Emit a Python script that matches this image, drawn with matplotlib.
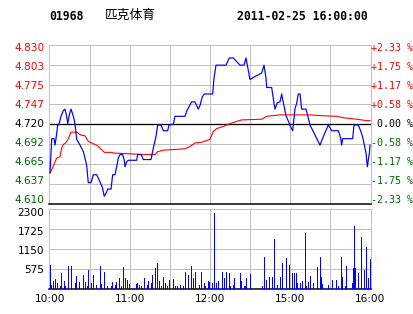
import matplotlib
matplotlib.use("Agg")
import matplotlib.pyplot as plt
import matplotlib.transforms as mtransforms

W, H = 414, 314

code = "01968"
name = "匹克体育"
stamp = "2011-02-25 16:00:00"
prev_close = 4.720

# minutes since 10:00 (240 trading minutes shown)
price_t = [0, 1.3, 3, 3.75, 4.5, 5.8, 6.75, 8.25, 10, 11.25, 12.5, 13.3, 14.5, 15.75,
           17, 18.2, 19.3, 20, 22.5, 25, 26.25, 27.5, 28.7, 30.75, 32.5, 35, 37.5,
           39.2, 40.7, 42.5, 43.3, 45.75, 47, 48.75, 50, 51.2, 52.5, 54.5, 55.7, 56.25,
           57.5, 58.7, 65, 65.75, 68.25, 70, 75.75, 77.5, 79.5, 80.75, 83.25, 85, 88.25,
           89.25, 92.5, 93.75, 101.25, 102.5, 105, 106.25, 108.75, 111.2, 112.5, 114.2,
           115.7, 122, 123, 124.5, 132, 134.5, 137.5, 139.5, 142.5, 145.5, 147, 148,
           150, 152.5, 158.75, 160.5, 162, 162.5, 166.25, 168, 168.75, 170.5, 172.5,
           173.75, 175, 177, 179.5, 180.5, 182, 183.2, 183.75, 185, 186.2, 187.5,
           188.75, 192, 193.25, 195, 198.75, 202.5, 205, 208.75, 211.25, 216.25, 218,
           218.75, 219.5, 227, 228, 231.25, 233.75, 235, 237, 238, 239.5, 240]
price_v = [4.653, 4.700, 4.700, 4.691, 4.700, 4.719, 4.720, 4.731, 4.739, 4.741, 4.731,
           4.721, 4.733, 4.741, 4.734, 4.726, 4.712, 4.699, 4.691, 4.682, 4.673, 4.663,
           4.639, 4.639, 4.650, 4.650, 4.640, 4.633, 4.620, 4.626, 4.630, 4.630, 4.650,
           4.650, 4.661, 4.673, 4.678, 4.678, 4.670, 4.661, 4.668, 4.670, 4.670, 4.678,
           4.678, 4.671, 4.671, 4.687, 4.703, 4.719, 4.719, 4.711, 4.711, 4.719, 4.720,
           4.731, 4.731, 4.738, 4.747, 4.751, 4.751, 4.741, 4.746, 4.758, 4.762, 4.762,
           4.784, 4.802, 4.802, 4.812, 4.812, 4.808, 4.802, 4.802, 4.812, 4.802, 4.782,
           4.785, 4.791, 4.802, 4.784, 4.771, 4.771, 4.749, 4.741, 4.750, 4.751, 4.762,
           4.750, 4.732, 4.721, 4.716, 4.711, 4.732, 4.742, 4.749, 4.762, 4.762, 4.741,
           4.741, 4.732, 4.719, 4.705, 4.691, 4.703, 4.719, 4.711, 4.711, 4.701, 4.691,
           4.700, 4.700, 4.719, 4.719, 4.707, 4.698, 4.680, 4.661, 4.680, 4.691]

avg_t = [0, 1.75, 5, 7.5, 8.75, 10, 11.75, 13.75, 15.75, 20, 23.25, 26.25, 28.75, 32.5,
         35, 37.5, 40.75, 46.25, 47.5, 71.25, 78.75, 80.75, 85, 101.25, 105, 108.75,
         113.75, 120, 122.5, 125, 130, 133.75, 140, 143.75, 158.75, 162.5, 172.5, 195,
         202.5, 215, 220, 230, 237.5, 240]
avg_v = [4.652, 4.659, 4.673, 4.675, 4.687, 4.692, 4.694, 4.700, 4.709, 4.709, 4.705,
         4.704, 4.696, 4.693, 4.691, 4.687, 4.681, 4.681, 4.680, 4.678, 4.678, 4.682,
         4.684, 4.686, 4.689, 4.694, 4.695, 4.699, 4.710, 4.714, 4.717, 4.720, 4.724,
         4.726, 4.727, 4.731, 4.733, 4.733, 4.732, 4.731, 4.729, 4.727, 4.725, 4.725]

vol_t = [0, 0.75, 2.5, 4, 5.5, 7.75, 8.5, 10.75, 11.5, 13.75, 16, 19, 19.75, 22, 25, 26.5,
         28, 28.75, 31, 32.5, 34.75, 37.75, 38.5, 40.75, 43, 46, 46.75, 49, 49.75, 52,
         53.5, 55, 56.5, 58, 59.5, 64.75, 65.5, 67, 68.5, 70.75, 73, 73.75, 76, 76.75,
         79, 80.5, 82, 83.5, 85, 86.5, 88, 89.5, 92.5, 94, 95.5, 97.75, 100, 101.5,
         103.75, 106, 107.5, 109, 112, 113.5, 115.75, 116.5, 118.75, 119.5, 121.75,
         123, 124.5, 126, 129, 130.5, 132, 134.25, 135, 137.25, 138, 142.5, 143.25,
         145.5, 146.25, 147, 150, 159, 160.5, 162, 164.25, 166.5, 168, 170.25, 172.5,
         174, 177, 179.25, 181.5, 183, 184.5, 185.25, 187.5, 189, 191.25, 192, 193.5,
         195, 197.25, 200.25, 202.5, 203.25, 204, 208.5, 211.5, 214.5, 216, 218.25,
         219, 221.25, 222, 226.5, 227.25, 228, 228.75, 231, 233.25, 235.5, 237, 238.5,
         240]
vol_v = [678, 96, 212, 271, 155, 67, 446, 212, 67, 649, 649, 155, 358, 184, 387, 184,
         67, 533, 155, 387, 96, 649, 125, 475, 67, 67, 184, 96, 184, 300,
         67, 620, 300, 242, 125, 125, 155, 96, 67, 300, 96, 212, 155, 387,
         591, 736, 212, 67, 329, 155, 67, 242, 271, 67, 67, 96, 67, 475,
         387, 649, 300, 475, 96, 475, 155, 67, 212, 184, 155,
         2190, 155, 212, 475, 300, 475, 446, 67, 96, 300, 446, 212,
         67, 67, 300, 416, 67, 911, 242, 329, 329, 1435, 96, 329,
         736, 882, 678, 446, 446, 446, 155, 155, 212, 1609, 67, 184,
         358, 155, 620, 911, 329, 125, 96, 242, 242, 67, 911,
         329, 67, 649, 155, 591, 1813, 591, 446, 1493, 533, 1202, 300,
         853]

price_ticks = [4.830, 4.8025, 4.775, 4.7475, 4.720, 4.6925, 4.665, 4.6375, 4.610]
price_labels = ["4.830", "4.803", "4.775", "4.747", "4.720", "4.692", "4.665", "4.637", "4.610"]
pct_labels = ["+2.33 %", "+1.75 %", "+1.17 %", "+0.58 %", "0.00 %",
              "-0.58 %", "-1.17 %", "-1.75 %", "-2.33 %"]
vol_ticks = [2300, 1725, 1150, 575]
vol_labels = ["2300", "1725", "1150", "575"]
time_ticks = [0, 60, 120, 180, 240]
time_labels = ["10:00", "11:00", "12:00", "15:00", "16:00"]
grid_times = [30, 60, 90, 120, 150, 180, 210]

BLUE = "#0000ff"
RED = "#ff0000"
GREEN = "#006400"
GRAY = "#c0c0c0"
PX = 72 / 100.0

fig = plt.figure(figsize=(W / 100, H / 100), dpi=100)
fig.patch.set_facecolor("white")


def px_axes(l, t, r, b):
    return fig.add_axes([l / W, 1 - b / H, (r - l) / W, (b - t) / H])


ax = px_axes(49.5, 45, 371, 203.5)
vax = px_axes(49.5, 209.3, 371, 288.5)

for a in (ax, vax):
    a.set_xlim(-0.375, 240.75)
    a.set_xticks([])
    a.set_yticks([])
    for s in ("left", "right", "top"):
        a.spines[s].set_color(GRAY)
        a.spines[s].set_linewidth(1.0 * PX)
    a.spines["bottom"].set_color("black")
    a.spines["bottom"].set_linewidth(1.5 * PX)
    for gt in grid_times:
        a.axvline(gt, color=GRAY, lw=1.0 * PX, zorder=0)

ax.set_ylim(4.610, 4.830)
vax.set_ylim(0, 2300)

for v in price_ticks[1:-1]:
    if abs(v - prev_close) > 1e-9:
        ax.axhline(v, color=GRAY, lw=1.0 * PX, zorder=0)
ax.axhline(prev_close, color="black", lw=1.3 * PX, zorder=1)
for v in vol_ticks[1:]:
    vax.axhline(v, color=GRAY, lw=1.0 * PX, zorder=0)

ax.plot(avg_t, avg_v, color=RED, lw=1.1 * PX, zorder=3)
ax.plot(price_t, price_v, color=BLUE, lw=1.2 * PX, zorder=4)
vax.vlines(vol_t, 0, vol_v, colors=BLUE, lw=1.0 * PX, zorder=3, antialiased=False)

for i, (v, lab, pl) in enumerate(zip(price_ticks, price_labels, pct_labels)):
    if v > prev_close + 1e-9:
        c = RED
    elif v < prev_close - 1e-9:
        c = GREEN
    else:
        c = "black"
    dy = -(2.7 - i * 0.75) * PX / 72
    off = mtransforms.ScaledTranslation(0, dy, fig.dpi_scale_trans)
    tl = mtransforms.blended_transform_factory(fig.transFigure, ax.transData) + off
    ax.text(44.5 / W, v, lab, transform=tl, ha="right", va="center",
            fontsize=7.6, color=c, family="DejaVu Sans")
    ax.text(413.5 / W, v, pl, transform=tl, ha="right", va="center",
            fontsize=7.2, color=c, family="DejaVu Sans Mono")

for i, (v, lab) in enumerate(zip(vol_ticks, vol_labels)):
    dy = -(3.5 - i * 0.7) * PX / 72
    off = mtransforms.ScaledTranslation(0, dy, fig.dpi_scale_trans)
    tl = mtransforms.blended_transform_factory(fig.transFigure, vax.transData) + off
    vax.text(44.5 / W, v, lab, transform=tl, ha="right", va="center",
             fontsize=7.6, color="black", family="DejaVu Sans")

tx = mtransforms.blended_transform_factory(vax.transData, fig.transFigure)
for t, lab in zip(time_ticks, time_labels):
    vax.text(t, 1 - 298.5 / H, lab, transform=tx, ha="center", va="center",
             fontsize=7.6, color="black", family="DejaVu Sans")

fig.text(49.5 / W, 1 - 16 / H, code, ha="left", va="center", fontsize=8.3,
         fontweight="bold", family="DejaVu Sans Mono", color="black")
fig.text(105 / W, 1 - 15.5 / H, name, ha="left", va="center", fontsize=9.2,
         family=["Noto Sans CJK SC", "DejaVu Sans"], color="black")
fig.text(237.5 / W, 1 - 16 / H, stamp, ha="left", va="center", fontsize=8.3,
         fontweight="bold", family="DejaVu Sans Mono", color="black")

fig.savefig("out.png", dpi=100, facecolor="white")
